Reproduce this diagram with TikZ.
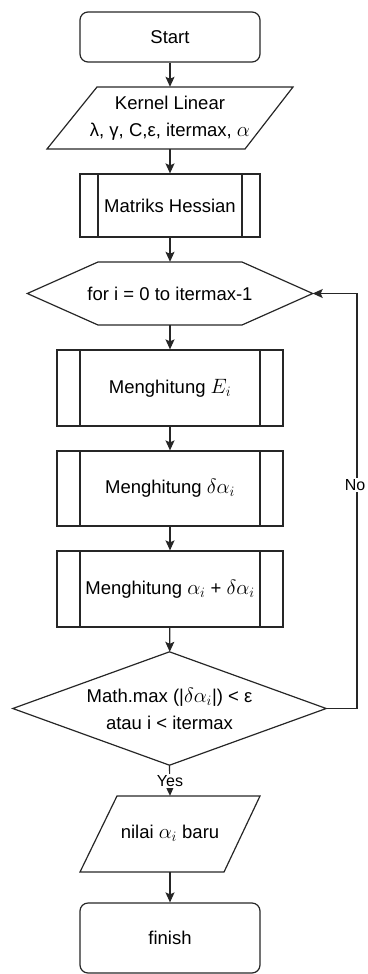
\documentclass[tikz,border=0pt]{standalone}
\usepackage{fontspec}
\setmainfont{Liberation Sans}
\usetikzlibrary{arrows.meta,calc}
\newcommand{\bm}[1]{{\fontsize{22}{27}\selectfont$#1$}}
\begin{document}
\begin{tikzpicture}[x=1pt,y=-1pt,
  every node/.style={font=\fontsize{18.5}{27}\selectfont, inner sep=0pt, align=center},
  line/.style={line width=1.2pt, draw=black!85},
  arr/.style={line, -{Stealth[length=10pt,width=9pt,inset=2pt]}},
  term/.style={line, draw, rounded corners=8pt, minimum width=180pt, minimum height=50pt},
  proc/.style={line, draw, minimum height=#1,
    path picture={
      \draw[line] ([xshift=\pinset]path picture bounding box.north west) -- ([xshift=\pinset]path picture bounding box.south west);
      \draw[line] ([xshift=-\pinset]path picture bounding box.north east) -- ([xshift=-\pinset]path picture bounding box.south east);
    }},
  lbl/.style={font=\fontsize{16}{18}\selectfont, fill=white, inner sep=1pt}
]
\newlength{\pinset}
\useasboundingbox (0,0) rectangle (367,974);

% nodes
\node[term] (start) at (170,37) {Start};

\node[minimum width=148pt, minimum height=62pt] (kernel) at (170,118)
  {Kernel Linear\\λ, γ, C,ε, itermax, \bm{\alpha}};
\draw[line] (97,87) -- (293,87) -- (245,149) -- (47,149) -- cycle;

\setlength{\pinset}{18pt}
\node[proc=63pt, minimum width=180pt] (hess) at (170,205.5) {Matriks Hessian};

\node[minimum width=285pt, minimum height=63pt] (loop) at (170,293.5) {for i = 0 to itermax-1};
\draw[line] (loop.west) -- (98,262) -- (242,262) -- (loop.east) -- (242,325) -- (98,325) -- cycle;

\setlength{\pinset}{23pt}
\node[proc=76pt, minimum width=226pt] (ei) at (170,388) {Menghitung \bm{E_i}};
\node[proc=75pt, minimum width=226pt] (dai) at (170,488.5) {Menghitung \bm{\delta\alpha_i}};
\node[proc=76pt, minimum width=226pt] (upd) at (170,589) {Menghitung \bm{\alpha_i} + \bm{\delta\alpha_i}};

\node[minimum width=313pt, minimum height=113pt] (cond) at (169.5,708.5)
  {Math.max (|\bm{\delta\alpha_i}|) < ε\\atau i < itermax};
\draw[line] (cond.north) -- (cond.east) -- (cond.south) -- (cond.west) -- cycle;

\node[minimum width=144pt, minimum height=76pt] (nilai) at (170,834) {\raisebox{4pt}{nilai \bm{\alpha_i} baru}};
\draw[line] (117,796) -- (260,796) -- (224,872) -- (80,872) -- cycle;

\node[term, minimum height=70pt] (finish) at (170,938) {finish};

% connectors
\draw[arr] (start) -- (kernel);
\draw[arr] (kernel) -- (hess);
\draw[arr] (hess) -- (loop);
\draw[arr] (loop) -- (ei);
\draw[arr] (ei) -- (dai);
\draw[arr] (dai) -- (upd);
\draw[arr] (upd) -- (cond);
\coordinate (nocorner) at (357,708.5);
\draw[arr] (cond.east) -- (nocorner) |- (loop.east);
\node[lbl] (no) at (355,485) {No};
\draw[arr] (cond.south) -- (nilai.north);
\node[lbl] (yes) at (170,781) {Yes};
\draw[arr] (nilai) -- (finish);
\end{tikzpicture}
\end{document}
